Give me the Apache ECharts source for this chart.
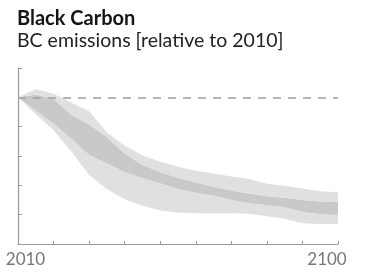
<!DOCTYPE html>
<html>
<head>
<meta charset="utf-8">
<script src="https://cdn.jsdelivr.net/npm/echarts@6/dist/echarts.min.js"></script>
<style>
  html, body { margin: 0; padding: 0; background: #fff; }
  #chart { width: 365px; height: 273px; }
</style>
</head>
<body>
<div id="chart"></div>
<script>
// BC emissions relative to 2010, scenario range
var years = ['2010', '2015', '2020', '2025', '2030', '2035', '2040', '2045', '2050', '2055',
             '2060', '2065', '2070', '2075', '2080', '2085', '2090', '2095', '2100'];
var rangeLow  = [1.0, 0.885, 0.775, 0.63, 0.47, 0.375, 0.305, 0.26, 0.228, 0.215,
                 0.21, 0.21, 0.21, 0.207, 0.19, 0.172, 0.142, 0.137, 0.136];
var coreLow   = [1.0, 0.91, 0.82, 0.72, 0.607, 0.55, 0.49, 0.45, 0.415, 0.375,
                 0.35, 0.33, 0.30, 0.277, 0.265, 0.25, 0.22, 0.202, 0.198];
var coreHigh  = [1.0, 1.02, 0.99, 0.88, 0.815, 0.73, 0.615, 0.54, 0.49, 0.452,
                 0.42, 0.39, 0.365, 0.345, 0.325, 0.315, 0.30, 0.29, 0.288];
var rangeHigh = [1.0, 1.055, 1.025, 0.965, 0.905, 0.76, 0.67, 0.605, 0.56, 0.527,
                 0.50, 0.48, 0.46, 0.443, 0.41, 0.397, 0.378, 0.36, 0.352];
var refLevel = 1.0;
var xLabels = ['2010', '2100'];
var xLabelShift = [7.5, -11];   // labels sit slightly inward from their ticks

var LIGHT = '#e0e0e0';
var DARK = '#c9c9c9';
var AXIS = '#9a9a9a';
var FONT = 'Lato';

// stacked bands: base + differences
function diff(a, b) {
    return a.map(function (v, i) { return +(v - b[i]).toFixed(4); });
}

function band(name, vals, color) {
    return {
        name: name,
        type: 'line',
        stack: 'bc',
        data: vals,
        symbol: 'none',
        showSymbol: false,
        lineStyle: { width: 0, opacity: 0 },
        areaStyle: { color: color || '#fff', opacity: color ? 1 : 0 },
        silent: true,
        z: 2
    };
}

var chart = echarts.init(document.getElementById('chart'), null, { renderer: 'canvas' });

var option = {
    animation: false,
    title: {
        text: 'Black Carbon',
        subtext: 'BC emissions [relative to 2010]',
        left: 12,
        top: 4,
        itemGap: 2,
        textStyle: { fontFamily: FONT, fontWeight: 'bold', fontSize: 20, color: '#151515' },
        subtextStyle: { fontFamily: FONT, fontSize: 19.5, color: '#222' }
    },
    grid: { left: 18, right: 27, top: 68, bottom: 29 },
    xAxis: {
        type: 'category',
        data: years,
        boundaryGap: false,
        splitLine: { show: false },
        axisLine: { lineStyle: { color: AXIS, width: 1.2 } },
        axisTick: { inside: true, length: 3, interval: 1, lineStyle: { color: AXIS } },
        axisLabel: { show: false }
    },
    yAxis: {
        type: 'value',
        min: 0,
        max: 1.2,
        interval: 0.2,
        splitLine: { show: false },
        axisLine: { show: true, lineStyle: { color: AXIS, width: 1.2 } },
        axisTick: { show: true, inside: true, length: 4, lineStyle: { color: AXIS } },
        axisLabel: { show: false }
    },
    series: [
        band('base', rangeLow, null),
        band('range-low', diff(coreLow, rangeLow), LIGHT),
        band('core', diff(coreHigh, coreLow), DARK),
        band('range-high', diff(rangeHigh, coreHigh), LIGHT),
        {
            name: 'reference',
            type: 'line',
            data: [],
            markLine: {
                silent: true,
                symbol: 'none',
                label: { show: false },
                lineStyle: { color: '#a0a0a0', width: 1.6, type: [8, 7] },
                data: [{ yAxis: refLevel }]
            },
            z: 5
        }
    ]
};

chart.setOption(option);

// end labels, placed from the axis scale
var labelY = chart.convertToPixel({ yAxisIndex: 0 }, 0) + 7;
chart.setOption({
    graphic: xLabels.map(function (lab, i) {
        return {
            type: 'text',
            x: chart.convertToPixel({ xAxisIndex: 0 }, lab) + xLabelShift[i],
            y: labelY,
            silent: true,
            style: {
                text: lab,
                fontFamily: FONT,
                fontSize: 17,
                fill: '#777',
                align: 'center',
                verticalAlign: 'top'
            }
        };
    })
});
</script>
</body>
</html>
